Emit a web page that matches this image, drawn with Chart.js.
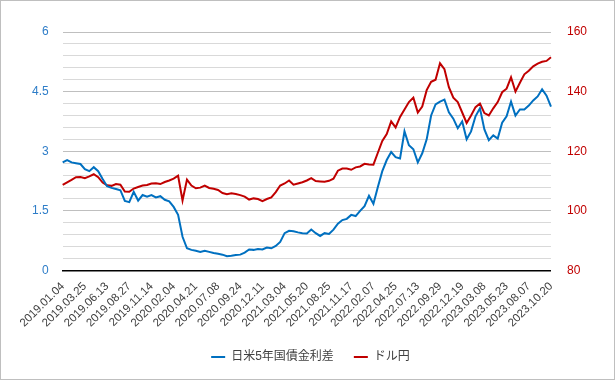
<!DOCTYPE html>
<html>
<head>
<meta charset="utf-8">
<script src="https://cdn.jsdelivr.net/npm/chart.js@4"></script>
<style>
  body { margin: 0; background: #fff; }
  #wrap { width: 613px; height: 378px; border: 1px solid #bfbfbf; position: relative; }
</style>
</head>
<body>
<div id="wrap"><canvas id="myChart"></canvas></div>
<script>
var tickLabels = ["2019.01.04", "2019.03.25", "2019.06.13", "2019.08.27", "2019.11.14", "2020.02.04",
    "2020.04.21", "2020.07.08", "2020.09.24", "2020.12.11", "2021.03.04", "2021.05.20", "2021.08.25",
    "2021.11.17", "2022.02.07", "2022.04.25", "2022.07.13", "2022.09.29", "2022.12.19", "2023.03.08",
    "2023.05.23", "2023.08.07", "2023.10.20"];
var pointsPerTick = 5;

// 日米5年国債金利差 (%)
var spread = [
    2.72, 2.78, 2.72, 2.70, 2.68, 2.55, 2.50, 2.60, 2.50, 2.30, 2.12, 2.08, 2.05, 2.02,
    1.75, 1.72, 1.98, 1.76, 1.90, 1.86, 1.90, 1.84, 1.87, 1.78, 1.74, 1.60, 1.40, 0.85,
    0.56, 0.52, 0.50, 0.47, 0.50, 0.47, 0.44, 0.42, 0.40, 0.36, 0.37, 0.39, 0.40, 0.45,
    0.53, 0.52, 0.54, 0.53, 0.58, 0.56, 0.62, 0.72, 0.94, 1.00, 0.99, 0.96, 0.94, 0.93,
    1.03, 0.94, 0.87, 0.94, 0.92, 1.03, 1.18, 1.27, 1.30, 1.40, 1.37, 1.50, 1.62,
    1.88, 1.68, 2.10, 2.50, 2.78, 2.98, 2.85, 2.82, 3.50, 3.15, 3.05, 2.72, 2.95, 3.30,
    3.90, 4.18, 4.25, 4.30, 3.98, 3.82, 3.58, 3.75, 3.30, 3.50, 3.88, 4.08, 3.55, 3.28,
    3.40, 3.32, 3.72, 3.88, 4.25, 3.90, 4.05, 4.05, 4.15, 4.28, 4.38, 4.56, 4.40, 4.12
];

// ドル円
var usdjpy = [
    108.7, 109.6, 110.4, 111.3, 111.4, 111.0, 111.6, 112.3, 111.3, 109.5, 108.6, 108.4, 109.0, 108.8,
    106.5, 106.4, 107.5, 108.0, 108.5, 108.7, 109.2, 109.3, 109.0, 109.7, 110.2, 110.8, 111.8, 103.5,
    110.5, 108.5, 107.6, 107.8, 108.5, 107.7, 107.4, 107.0, 106.0, 105.6, 105.9, 105.7, 105.3, 104.8,
    103.8, 104.2, 104.0, 103.3, 104.0, 104.5, 106.3, 108.5, 109.2, 110.2, 108.8, 109.2, 109.6, 110.2,
    111.0, 110.0, 109.9, 109.8, 110.1, 110.8, 113.5, 114.2, 114.2, 113.8, 114.6, 114.9, 115.8,
    115.6, 115.5, 119.5, 123.5, 125.8, 130.0, 128.0, 131.5, 134.0, 136.5, 138.0, 133.0, 135.0, 140.5,
    143.3, 144.0, 149.5, 147.5, 141.5, 138.0, 136.5, 133.0, 129.5, 132.0, 134.8, 136.0, 132.8, 132.0,
    134.4, 136.5, 139.8, 141.0, 144.8, 140.0, 143.0, 145.8, 147.0, 148.5, 149.4, 150.0, 150.3, 151.5
];

var labels = spread.map(function (v, i) {
    return i % pointsPerTick === 0 ? tickLabels[i / pointsPerTick] : '';
});

function isMajor(v) {
    return Math.abs(v / 1.5 - Math.round(v / 1.5)) < 1e-6;
}

var ctx = document.getElementById('myChart').getContext('2d');
var myChart = new Chart(ctx, {
    type: 'line',
    data: {
        labels: labels,
        datasets: [{
            label: '日米5年国債金利差',
            data: spread,
            yAxisID: 'y',
            borderColor: '#0070C0',
            backgroundColor: '#0070C0',
            borderWidth: 2,
            pointRadius: 0,
            tension: 0
        }, {
            label: 'ドル円',
            data: usdjpy,
            yAxisID: 'y1',
            borderColor: '#C00000',
            backgroundColor: '#C00000',
            borderWidth: 2,
            pointRadius: 0,
            tension: 0
        }]
    },
    options: {
        responsive: true,
        maintainAspectRatio: false,
        animation: false,
        layout: { padding: { left: 17, right: 11, top: 31, bottom: 6 } },
        font: { family: "'Liberation Sans', Arial, sans-serif" },
        scales: {
            x: {
                offset: false,
                grid: { display: false },
                border: { display: true, color: '#000000', width: 1.5 },
                ticks: {
                    autoSkip: false,
                    minRotation: 45,
                    maxRotation: 45,
                    color: '#404040',
                    padding: 1,
                    font: { family: "'Liberation Sans', Arial, sans-serif", size: 11.5 }
                }
            },
            y: {
                position: 'left',
                min: 0,
                max: 6,
                border: { display: false },
                grid: {
                    drawTicks: false,
                    color: function (c) {
                        if (c.tick.value === 0) return 'rgba(0,0,0,0)';
                        return isMajor(c.tick.value) ? '#bfbfbf' : '#d9d9d9';
                    }
                },
                ticks: {
                    stepSize: 0.3,
                    autoSkip: false,
                    padding: 14,
                    color: '#2E7DC8',
                    font: { family: "'Liberation Sans', Arial, sans-serif", size: 12 },
                    callback: function (v) { return isMajor(v) ? String(Math.round(v * 10) / 10) : ''; }
                }
            },
            y1: {
                position: 'right',
                min: 80,
                max: 160,
                border: { display: false },
                grid: { display: false, drawTicks: false },
                ticks: {
                    stepSize: 20,
                    padding: 16,
                    color: '#C00000',
                    font: { family: "'Liberation Sans', Arial, sans-serif", size: 12 }
                }
            }
        },
        plugins: {
            legend: {
                position: 'bottom',
                labels: {
                    usePointStyle: true,
                    pointStyle: 'line',
                    pointStyleWidth: 14,
                    boxHeight: 10,
                    padding: 20,
                    color: '#404040',
                    font: { family: "'Liberation Sans', 'Noto Sans CJK JP', sans-serif", size: 12 }
                }
            },
            tooltip: { enabled: false }
        }
    }
});
</script>
</body>
</html>
